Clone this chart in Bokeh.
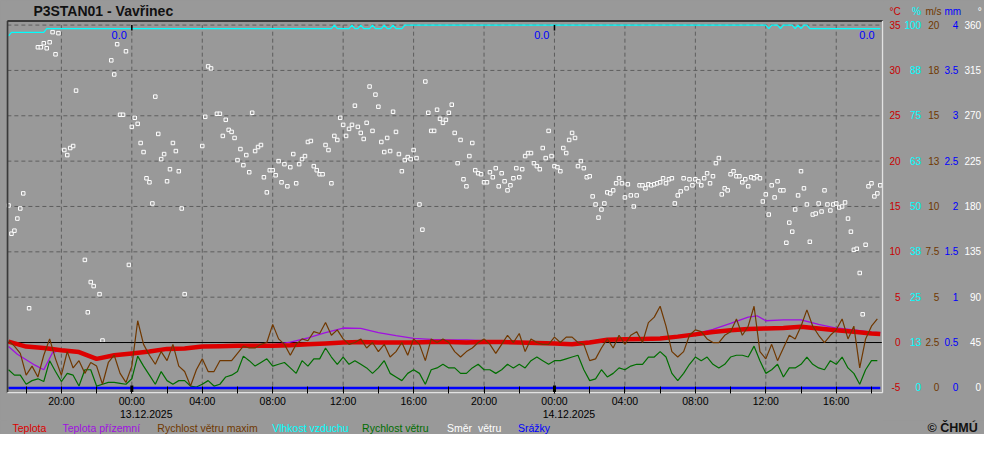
import pandas as pd
from bokeh.plotting import figure
from bokeh.layouts import column
from bokeh.models import (Range1d, LinearAxis, DatetimeAxis, FixedTicker,
                          DatetimeTickFormatter, Label, ColumnDataSource)
from bokeh.core.properties import value
from bokeh.embed import file_html
from bokeh.resources import INLINE

nan = float("nan")

# ------------------------------------------------------------------ data
START = "2025-12-12 17:00"          # first 10-min sample
DAY0 = "2025-12-13 00:00"           # reference midnight for hour offsets
VIEW_START = "2025-12-12 16:56"
VIEW_END = "2025-12-14 18:38"

# wind direction [deg], every 10 min from START
dir_deg = [
    181, 153, 156, 168, 178, 193, nan, 79, nan, nan,
    338, 338, 342, 337, 343, 353, 331, 352, nan, 236,
    231, 238, 240, 295, nan, nan, 127, 75, 105, 101,
    nan, 93, 47, nan, nan, 325, 311, 341, 271, 271,
    334, 122, 259, 268, 262, 243, 234, 208, 204, 183,
    289, 252, 227, 232, 205, 217, 243, 235, 215, 178,
    93, nan, nan, nan, nan, nan, 240, 269, 319, 317,
    nan, 272, 272, 250, 266, 256, 254, 248, 226, 237,
    221, 231, 214, 273, 235, 239, 241, 209, 194, 216,
    216, 211, 225, 204, 222, 200, 219, 232, 203, 222,
    227, 230, 244, 245, 220, 216, 212, 212, 241, 236,
    203, 250, 246, 268, 261, 250, 257, 261, 280, 259,
    253, 247, 263, 299, 255, 291, 279, 244, 234, 248,
    235, 274, 254, 232, 215, 226, 229, 227, 236, 228,
    182, 157, 304, 273, 255, 255, 276, 267, 263, 266,
    273, 281, 253, 223, 246, 207, 200, 230, 243, 216,
    213, 212, 204, 204, 214, 209, 218, 200, 213, 205,
    196, 201, 208, 218, 209, 217, 230, 233, 233, 223,
    220, 217, 238, 228, 255, 230, 220, 219, 215, 238,
    233, 246, 253, 248, 220, 225, 218, 209, 210, 190,
    182, 169, 177, 183, 194, 193, 196, 203, 208, 203,
    189, 202, 191, 180, 191, 201, 201, 198, 202, 201,
    202, 203, 204, 208, 203, 207, 208, 183, 191, 195,
    208, 198, 207, 201, 207, 205, 201, 208, 213, 203,
    210, 223, 228, 192, 198, 196, 212, 215, 210, 210,
    204, 207, 200, 209, 208, 210, 208, 185, 192, 172,
    201, 189, 205, 196, 196, 144, 164, 155, 177, 191,
    215, 198, 182, 145, 172, 173, 183, 175, 196, 182,
    176, 182, 183, 179, 180, 184, 168, 155, 137, 138,
    114, 73, 142, 200, 203, 190, 193, 201,
]

# wind gust and wind speed [m/s], every 20 min from START
gust_ms = [
    2.6, 2.3, 1.9, 0.7, 1.2, 0.6, 1.8, 2.7, 1.6, 0.7,
    2.0, 1.1, 1.5, 0.8, 1.4, 1.2, 0.2, 1.4, 1.8, 0.8,
    0.3, 1.2, 3.7, 2.4, 1.8, 1.3, 2.0, 1.5, 2.4, 1.2,
    0.9, 0.1, 1.0, 1.6, 0.9, 0.9, 1.5, 1.5, 1.5, 1.9,
    2.3, 2.2, 2.2, 2.4, 2.5, 3.5, 2.7, 2.4, 1.8, 2.4,
    2.7, 2.6, 3.1, 3.0, 3.6, 2.9, 3.2, 2.7, 2.4, 2.5,
    2.7, 2.2, 2.5, 2.0, 2.4, 1.7, 2.0, 2.5, 1.8, 2.7,
    2.4, 1.5, 2.7, 2.5, 2.7, 2.5, 2.0, 1.7, 2.0, 2.2,
    2.5, 2.7, 2.4, 1.9, 2.4, 2.9, 2.5, 3.0, 2.0, 2.7,
    2.5, 2.4, 2.4, 2.8, 2.5, 2.8, 2.8, 2.5, 2.4, 1.5,
    1.6, 2.2, 2.7, 2.2, 2.9, 2.4, 2.9, 3.1, 2.5, 3.6,
    3.9, 4.5, 3.4, 2.0, 1.7, 2.0, 2.9, 3.2, 3.1, 2.7,
    2.5, 2.5, 2.9, 3.1, 3.8, 2.9, 3.4, 4.5, 2.0, 1.6,
    2.4, 1.5, 2.2, 2.9, 2.7, 3.4, 4.3, 3.4, 2.9, 2.5,
    2.9, 3.2, 3.8, 2.7, 3.4, 1.1, 2.7, 3.4, 3.8,
]
wind_ms = [
    1.0, 0.7, 0.7, 0.2, 0.4, 0.5, 0.35, 1.5, 0.9, 0.35,
    0.8, 0.7, 0.1, 1.0, 1.0, 0.1, 0.2, 0.3, 0.3, 0.25,
    0.2, 0.5, 1.75, 1.2, 0.7, 0.2, 0.9, 0.4, 0.2, 0.4,
    0.4, 0.1, 0.05, 0.2, 0.4, 0.1, 0.2, 0.6, 0.7, 0.9,
    1.75, 1.5, 1.2, 1.4, 1.6, 1.2, 1.3, 1.4, 1.1, 0.8,
    1.5, 1.2, 1.6, 1.6, 2.2, 1.7, 1.3, 1.7, 1.3, 1.5,
    1.3, 1.1, 0.8, 1.1, 1.5, 0.8, 0.6, 0.4, 0.8, 1.0,
    0.8, 0.2, 1.0, 1.1, 1.3, 1.1, 1.1, 0.8, 0.8, 1.1,
    1.3, 1.0, 1.0, 0.8, 1.0, 1.3, 1.1, 1.3, 1.1, 1.5,
    1.7, 1.5, 1.3, 1.5, 1.5, 1.6, 1.7, 1.8, 1.0, 0.4,
    0.5, 1.0, 0.6, 0.8, 1.1, 1.0, 1.2, 1.3, 1.3, 1.7,
    1.7, 2.0, 1.7, 0.8, 0.4, 0.8, 1.3, 1.7, 1.5, 1.7,
    1.3, 1.1, 1.3, 1.7, 1.8, 1.8, 1.7, 2.3, 1.5, 0.8,
    1.0, 1.3, 0.6, 1.1, 1.1, 1.3, 1.7, 1.3, 1.1, 1.0,
    1.5, 1.3, 1.7, 1.1, 0.8, 0.2, 1.0, 1.5, 1.5,
]

# air temperature [degC], hours relative to DAY0
temp_hours = list(range(-7, 43)) + [42.5]
temp_c = [
    0.1, -0.45, -0.6, -0.85, -1.05, -1.8, -1.4, -1.2, -1.0, -0.7,
    -0.65, -0.45, -0.4, -0.35, -0.35, -0.35, -0.3, -0.2, -0.1, 0.0,
    0.05, 0.0, 0.0, 0.0, 0.05, 0.05, 0.0, 0.05, 0.05, 0.0,
    -0.05, -0.1, -0.2, 0.0, 0.3, 0.35, 0.4, 0.45, 0.65, 0.9,
    1.15, 1.35, 1.5, 1.55, 1.6, 1.75, 1.55, 1.35, 1.2, 1.0, 0.95,
]

# ground temperature [degC]
ground_hours = [-7, -6.5, -6, -5.5, -5, -4.5, -4] + list(range(-3, 36)) + [35.5] + list(range(36, 43)) + [42.5]
ground_c = [
    -0.45, -1.3, -1.9, -2.5, -3.0, -1.1, -0.8,
    -1.0, -1.7, -1.3, -1.1, -0.9, -0.6, -0.55, -0.4, -0.35, -0.3,
    -0.3, -0.25, 0.05, 0.5, 1.1, 1.6, 1.55, 1.1, 0.75, 0.45,
    0.35, 0.3, 0.3, 0.2, 0.2, 0.1, 0.05, 0.0, 0.0, 0.15,
    0.35, 0.45, 0.5, 0.55, 0.7, 0.95, 1.45, 2.1, 2.8, 2.95,
    2.4, 2.5, 2.5, 2.0, 1.6, 1.4, 1.15, 1.1,
]

# relative humidity [%], sample index (10 min steps from START)
hum_index = [0, 1, 12, 13, 110, 111, 112, 116, 117, 118, 119, 120, 121, 123, 124, 125,
             127, 128, 129, 130, 131, 132, 134, 135, 258, 259, 260, 262, 263, 264,
             267, 268, 269, 270, 271, 272, 273, 297]
hum_pct = [97, 98, 98, 99, 99, 100, 99, 99, 100, 99, 99, 100, 99, 99, 100, 99,
           99, 100, 99, 99, 100, 99, 99, 100, 100, 99, 100, 100, 99, 100,
           100, 99, 100, 99, 100, 100, 99, 99]

# precipitation [mm], hourly
prec_hours = list(range(-7, 43)) + [42.5]
prec_mm = [0.0, 0.0, 0.0, 0.0, 0.0, 0.0, 0.0, 0.0, 0.0, 0.0,
           0.0, 0.0, 0.0, 0.0, 0.0, 0.0, 0.0, 0.0, 0.0, 0.0,
           0.0, 0.0, 0.0, 0.0, 0.0, 0.0, 0.0, 0.0, 0.0, 0.0,
           0.0, 0.0, 0.0, 0.0, 0.0, 0.0, 0.0, 0.0, 0.0, 0.0,
           0.0, 0.0, 0.0, 0.0, 0.0, 0.0, 0.0, 0.0, 0.0, 0.0, 0.0]

# daily precipitation sums
day_sum_at = ["2025-12-13 00:00", "2025-12-14 00:00", VIEW_END]
day_sum_mm = [0.0, 0.0, 0.0]

midnights = ["2025-12-13 00:00", "2025-12-14 00:00"]
major_tick_hours = [-4, 0, 4, 8, 12, 16, 20, 24, 28, 32, 36, 40]
minor_tick_hours = [-6, -2, 2, 6, 10, 14, 18, 22, 26, 30, 34, 38, 42]

c_ticks = [-5, 0, 5, 10, 15, 20, 25, 30, 35]
c_labels = ["-5", "0", "5", "10", "15", "20", "25", "30", "35"]
pct_ticks = [0, 12.5, 25, 37.5, 50, 62.5, 75, 87.5, 100]
pct_labels = ["0", "13", "25", "38", "50", "63", "75", "88", "100"]
ms_ticks = [0, 2.5, 5, 7.5, 10, 12.5, 15, 17.5, 20]
ms_labels = ["0", "2.5", "5", "7.5", "10", "13", "15", "18", "20"]
mm_ticks = [0, 0.5, 1, 1.5, 2, 2.5, 3, 3.5, 4]
mm_labels = ["0", "0.5", "1", "1.5", "2", "2.5", "3", "3.5", "4"]
deg_ticks = [0, 45, 90, 135, 180, 225, 270, 315, 360]
deg_labels = ["0", "45", "90", "135", "180", "225", "270", "315", "360"]

legend_items = ["Teplota", "Teplota přízemní", "Rychlost větru maxim", "Vlhkost vzduchu",
                "Rychlost větru", "Směr\u00a0 větru", "Srážky"]
header_units = ["°C", "%", "m/s", "mm", "°"]
title_text = "P3STAN01 - Vavřinec"
copyright_text = "© ČHMÚ"

# ------------------------------------------------------------------ styles
BG = "#999999"
RED = "#dd0000"
RED_T = "#c80000"
PURPLE = "#a010e0"
BROWN = "#703800"
GREEN = "#006e00"
CYAN = "#00ffff"
BLUE = "#0000ff"
WHITE = "#ffffff"
GRID = "#5e5e5e"
DARK = "#3a3a3a"
LIGHT = "#e2e2e2"
FONT = "Liberation Sans"

W = 984
MAIN_H, BOT_H = 420, 14
RIGHT_W = 100
PLOT_BOTTOM, PLOT_TOP = -5.53, 35.45     # visible plot box in degC
Y_LO, Y_HI = -5.62, 37.6                # frame range (header row above the box)
HEADER_Y = 36.5


def ms(t):
    return pd.Timestamp(t).value / 1e6


HOUR = 3600000.0
MIN = 60000.0
d0 = ms(DAY0)
t0 = pd.Timestamp(START)
xs, xe = ms(VIEW_START), ms(VIEW_END)

dir_t = [t0 + pd.Timedelta(minutes=10 * i) for i in range(len(dir_deg))]
gust_t = [t0 + pd.Timedelta(minutes=20 * j) for j in range(len(gust_ms))]
wind_t = [t0 + pd.Timedelta(minutes=20 * j) for j in range(len(wind_ms))]
hum_t = [t0 + pd.Timedelta(minutes=10 * i) for i in hum_index]
temp_t = [pd.Timestamp(DAY0) + pd.Timedelta(hours=h) for h in temp_hours]
ground_t = [pd.Timestamp(DAY0) + pd.Timedelta(hours=h) for h in ground_hours]
prec_t = [pd.Timestamp(DAY0) + pd.Timedelta(hours=h) for h in prec_hours]

# ------------------------------------------------------------------ main chart
p = figure(width=W, height=MAIN_H, x_axis_type="datetime", y_axis_location=None,
           x_range=Range1d(xs - 3 * MIN, xe + 3 * MIN), y_range=Range1d(Y_LO, Y_HI),
           output_backend="svg", toolbar_location=None,
           min_border_left=6, min_border_right=RIGHT_W, min_border_top=1, min_border_bottom=26,
           background_fill_color=BG, border_fill_color=BG, outline_line_color=None)
p.xgrid.visible = False
p.ygrid.visible = False

# unit conversions of the right-hand scales: unit = (degC + 5) * k
conv = {"deg": 9.0, "pct": 2.5, "ms": 0.5, "mm": 0.1}
p.extra_y_ranges = {k: Range1d((Y_LO + 5) * f, (Y_HI + 5) * f) for k, f in conv.items()}

# dashed grid inside the plot box
maj_ms = [d0 + h * HOUR for h in major_tick_hours]
p.segment(x0=maj_ms, y0=[PLOT_BOTTOM] * len(maj_ms), x1=maj_ms, y1=[35.0] * len(maj_ms),
          line_color=GRID, line_dash="4 3", line_width=1)
p.segment(x0=[xs] * len(c_ticks), y0=c_ticks, x1=[xe] * len(c_ticks), y1=c_ticks,
          line_color=GRID, line_dash="4 3", line_width=1)

# hour axis
fmt_h = DatetimeTickFormatter(microseconds="%H:%M", milliseconds="%H:%M", seconds="%H:%M",
                              minsec="%H:%M", minutes="%H:%M", hourmin="%H:%M", hours="%H:%M",
                              days="%H:%M", months="%H:%M", years="%H:%M")
xa = p.xaxis[0]
xa.ticker = FixedTicker(ticks=maj_ms, minor_ticks=[d0 + h * HOUR for h in minor_tick_hours])
xa.formatter = fmt_h
xa.axis_line_color = None
xa.major_tick_in = 7
xa.major_tick_out = 0
xa.minor_tick_in = 7
xa.minor_tick_out = 0
xa.major_tick_line_color = "black"
xa.minor_tick_line_color = "black"
xa.major_label_standoff = 1
xa.major_label_text_font = FONT
xa.major_label_text_font_size = "10.5px"
xa.major_label_text_color = "black"

# date axis
fmt_d = DatetimeTickFormatter(microseconds="%d.%m.%Y", milliseconds="%d.%m.%Y", seconds="%d.%m.%Y",
                              minsec="%d.%m.%Y", minutes="%d.%m.%Y", hourmin="%d.%m.%Y",
                              hours="%d.%m.%Y", days="%d.%m.%Y", months="%d.%m.%Y", years="%d.%m.%Y")
da = DatetimeAxis(ticker=FixedTicker(ticks=[ms(m) + 0.82 * HOUR for m in midnights]),
                  formatter=fmt_d, axis_line_color=None,
                  major_tick_in=0, major_tick_out=0, minor_tick_in=0, minor_tick_out=0,
                  major_tick_line_color=None, minor_tick_line_color=None,
                  major_label_standoff=0, major_label_text_font=FONT,
                  major_label_text_font_size="10.5px", major_label_text_color="black")
p.add_layout(da, "below")


def pad(s, widest):
    nd = sum(c.isdigit() for c in widest) - sum(c.isdigit() for c in s)
    npd = widest.count(".") - s.count(".")
    pre = ""
    if s.startswith("-"):
        nd -= 1
        pre = "\u2009"
    return "\u2007" * max(nd, 0) + "\u2008" * max(npd, 0) + pre + s


header_pad = ["", "\u2007\u2009", "", "", "\u2007\u2007\u2009"]
right_specs = [
    ("default", 1.0, c_ticks, c_labels, "35", RED_T, 6),
    ("pct", conv["pct"], pct_ticks, pct_labels, "100", CYAN, 1),
    ("ms", conv["ms"], ms_ticks, ms_labels, "7.5", BROWN, 1),
    ("mm", conv["mm"], mm_ticks, mm_labels, "3.5", BLUE, 0),
    ("deg", conv["deg"], deg_ticks, deg_labels, "360", WHITE, 0),
]
for n, (rname, k, ticks, labels, widest, col, standoff) in enumerate(right_specs):
    hy = HEADER_Y if rname == "default" else (HEADER_Y + 5) * k
    over = {t: pad(l, widest) for t, l in zip(ticks, labels)}
    over[hy] = header_pad[n] + header_units[n]
    ax = LinearAxis(y_range_name=rname, ticker=FixedTicker(ticks=list(ticks) + [hy]),
                    major_label_overrides=over,
                    axis_line_color=None, major_tick_line_color=None, minor_tick_line_color=None,
                    major_tick_in=0, major_tick_out=0, minor_tick_in=0, minor_tick_out=0,
                    major_label_standoff=standoff, major_label_text_color=col,
                    major_label_text_font=FONT, major_label_text_font_size="10px")
    p.add_layout(ax, "right")

# series
p.scatter(dir_t, dir_deg, y_range_name="deg", marker="square", size=3.5,
          fill_color=BG, line_color=WHITE, line_width=1)
p.line(hum_t, hum_pct, y_range_name="pct", line_color=CYAN, line_width=1.2)
p.segment(x0=[xs], y0=[0], x1=[xe], y1=[0], line_color="black", line_width=1)
p.line(wind_t, wind_ms, y_range_name="ms", line_color=GREEN, line_width=1.2)
p.line(ground_t, ground_c, line_color=PURPLE, line_width=1.3)
p.line(temp_t, temp_c, line_color=RED, line_width=4.5)
p.line(gust_t, gust_ms, y_range_name="ms", line_color=BROWN, line_width=1.2)
p.line(prec_t, prec_mm, y_range_name="mm", line_color=BLUE, line_width=2.5)

# midnight marks
mid_ms = [ms(m) for m in midnights]
p.segment(x0=mid_ms, y0=[Y_LO] * 2, x1=mid_ms, y1=[-4.75] * 2, line_color="black", line_width=3)
p.segment(x0=mid_ms, y0=[35.0] * 2, x1=mid_ms, y1=[34.4] * 2, line_color="black", line_width=1.5)

# plot box borders (dark top/left, light bottom/right)
p.segment(x0=[xs, xs], y0=[PLOT_TOP, PLOT_BOTTOM], x1=[xe, xs], y1=[PLOT_TOP, PLOT_TOP],
          line_color=DARK, line_width=2)
p.segment(x0=[xe, xs], y0=[PLOT_BOTTOM, PLOT_BOTTOM], x1=[xe, xe], y1=[PLOT_TOP, PLOT_BOTTOM],
          line_color=LIGHT, line_width=1.5)

# daily precipitation sums
for at, v, off in zip(day_sum_at, day_sum_mm, [-5, -5, -8]):
    p.add_layout(Label(x=ms(at), y=33.9, x_offset=off, text=f"{v:.1f}", text_align="right",
                       text_baseline="middle", text_color=BLUE, text_font=FONT,
                       text_font_size="11px", background_fill_color=BG))

# title (in the header row above the plot box)
p.text(x=[xs], y=[HEADER_Y], x_offset=26, text=[title_text], text_font=value(FONT),
       text_font_style="bold", text_font_size="14px", text_baseline="middle",
       text_color="#111111")

# ------------------------------------------------------------------ bottom row: legend
bot = figure(width=W, height=BOT_H, x_range=Range1d(6, W - RIGHT_W), y_range=Range1d(0, BOT_H),
             x_axis_location=None, y_axis_location=None, output_backend="svg",
             toolbar_location=None, min_border_left=6, min_border_right=RIGHT_W,
             min_border_top=0, min_border_bottom=0, background_fill_color=BG,
             border_fill_color=BG, outline_line_color=None)
bot.xgrid.visible = False
bot.ygrid.visible = False
legend_colors = [RED, PURPLE, BROWN, CYAN, GREEN, WHITE, BLUE]
legend_x = [12, 62, 157, 272, 362, 447, 518]
LEG_Y = 7
bot.text(x="x", y="y", text="t", text_color="c", text_font=value(FONT), text_font_size="10.5px",
         text_baseline="middle",
         source=ColumnDataSource(dict(x=legend_x, y=[LEG_Y] * 7, t=legend_items,
                                      c=legend_colors)))
cax = LinearAxis(ticker=FixedTicker(ticks=[LEG_Y]),
                 major_label_overrides={LEG_Y: copyright_text},
                 axis_line_color=None, major_tick_line_color=None, minor_tick_line_color=None,
                 major_tick_in=0, major_tick_out=0, minor_tick_in=0, minor_tick_out=0,
                 major_label_standoff=44, major_label_text_color="#111111",
                 major_label_text_font=FONT, major_label_text_font_style="bold",
                 major_label_text_font_size="12.5px")
bot.add_layout(cax, "right")

layout = column(p, bot, spacing=0, styles={"background-color": BG})
open("out.html", "w").write(file_html(layout, INLINE))
